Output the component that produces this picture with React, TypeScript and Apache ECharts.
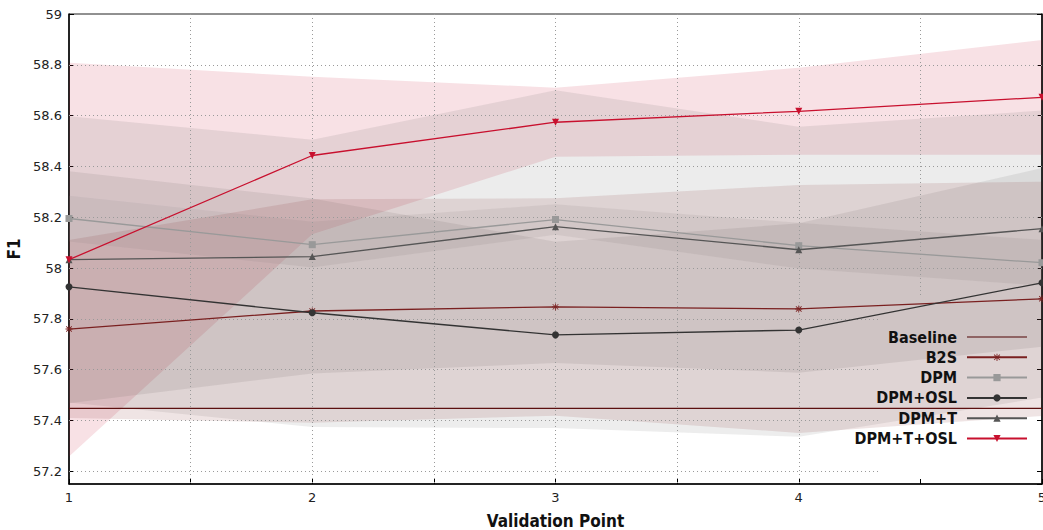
import React, { useEffect, useRef } from "react";
import * as echarts from "echarts";

// ---------- data ----------
const X_POINTS = [1, 2, 3, 4, 5];
const X_TICK_LABELS = ["1", "2", "3", "4", "5"];
const Y_TICK_VALUES = [57.2, 57.4, 57.6, 57.8, 58, 58.2, 58.4, 58.6, 58.8, 59];

const SERIES_NAMES = ["Baseline", "B2S", "DPM", "DPM+OSL", "DPM+T", "DPM+T+OSL"];

const BASELINE = [57.448, 57.448, 57.448, 57.448, 57.448];
const B2S = [57.76, 57.831, 57.847, 57.839, 57.879];
const DPM = [58.195, 58.092, 58.191, 58.088, 58.021];
const DPM_OSL = [57.926, 57.824, 57.737, 57.756, 57.942];
const DPM_T = [58.033, 58.045, 58.163, 58.072, 58.155];
const DPM_T_OSL = [58.033, 58.443, 58.574, 58.617, 58.672];

// standard deviations (half-width of shaded bands)
const B2S_SD = [0.35, 0.44, 0.428, 0.488, 0.461];
const DPM_SD = [0.09, 0.09, 0.06, 0.09, 0.09];
const DPM_OSL_SD = [0.455, 0.45, 0.367, 0.42, 0.452];
const DPM_T_SD = [0.565, 0.46, 0.537, 0.484, 0.465];
const DPM_T_OSL_SD = [0.775, 0.31, 0.136, 0.171, 0.226];

// ---------- styles ----------
const FONT = "'DejaVu Sans', sans-serif";
const BOLD_FONT = "'DejaVu Sans Condensed', 'DejaVu Sans', sans-serif";
const COLORS: Record<string, string> = {
  Baseline: "#5c1010",
  B2S: "#7a2020",
  DPM: "#999999",
  "DPM+OSL": "#333333",
  "DPM+T": "#555555",
  "DPM+T+OSL": "#c8102e",
};
const BAND_FILLS: Record<string, string> = {
  B2S: "rgba(122,32,32,0.12)",
  DPM: "rgba(153,153,153,0.15)",
  "DPM+OSL": "rgba(51,51,51,0.09)",
  "DPM+T": "rgba(85,85,85,0.11)",
  "DPM+T+OSL": "rgba(200,16,46,0.125)",
};
const ASTERISK =
  "path://M4.4,0H5.6V10H4.4Z M0.6,1.7L1.3,0.8L9.4,8.3L8.7,9.2Z M9.4,1.7L8.7,0.8L0.6,8.3L1.3,9.2Z M0,4.4H10V5.6H0Z";
const LINE_ICON = "path://M0,0H60V1.4H0Z";

const BANDS = [
  { name: "DPM+T+OSL", mean: DPM_T_OSL, sd: DPM_T_OSL_SD },
  { name: "DPM+T", mean: DPM_T, sd: DPM_T_SD },
  { name: "DPM", mean: DPM, sd: DPM_SD },
  { name: "DPM+OSL", mean: DPM_OSL, sd: DPM_OSL_SD },
  { name: "B2S", mean: B2S, sd: B2S_SD },
];

const LINES = [
  { name: "Baseline", values: BASELINE, symbol: "none", rotate: 0 },
  { name: "B2S", values: B2S, symbol: ASTERISK, rotate: 0 },
  { name: "DPM", values: DPM, symbol: "rect", rotate: 0 },
  { name: "DPM+OSL", values: DPM_OSL, symbol: "circle", rotate: 0 },
  { name: "DPM+T", values: DPM_T, symbol: "triangle", rotate: 0 },
  { name: "DPM+T+OSL", values: DPM_T_OSL, symbol: "triangle", rotate: 180 },
];

// grid lines that stop at the key (legend) area
const KEY_LEFT_X = 4.334;
const KEY_TOP_Y = 57.887;

function buildOption() {
  const gridLineStyle = { type: [1, 3] as any, color: "#9a9a9a", width: 1 };
  const markData: any[] = [];
  Y_TICK_VALUES.forEach((v) => {
    if (v >= 59) return;
    const xEnd = v < KEY_TOP_Y ? KEY_LEFT_X : 5;
    markData.push([{ coord: [1, v] }, { coord: [xEnd, v] }]);
  });
  [1.5, 2, 2.5, 3, 3.5, 4, 4.5].forEach((x) => {
    const yEnd = x > KEY_LEFT_X ? KEY_TOP_Y : 57.15;
    markData.push([{ coord: [x, 59] }, { coord: [x, yEnd] }]);
  });

  const series: any[] = [
    {
      type: "line",
      name: "__grid",
      data: [],
      silent: true,
      z: 1,
      markLine: {
        silent: true,
        symbol: ["none", "none"],
        label: { show: false },
        lineStyle: gridLineStyle,
        emphasis: { disabled: true },
        data: markData,
      },
    },
    {
      type: "custom",
      name: "__bands",
      silent: true,
      z: 2,
      clip: true,
      data: BANDS.map((_, i) => [i]),
      encode: { x: -1, y: -1 },
      renderItem: (params: any, api: any) => {
        const b = BANDS[api.value(0)];
        const upper = X_POINTS.map((x, k) => api.coord([x, b.mean[k] + b.sd[k]]));
        const lower = X_POINTS.map((x, k) => api.coord([x, b.mean[k] - b.sd[k]])).reverse();
        return {
          type: "polygon",
          shape: { points: upper.concat(lower) },
          style: { fill: BAND_FILLS[b.name], stroke: "none" },
        };
      },
    },
  ];

  LINES.forEach((l, i) => {
    series.push({
      type: "line",
      name: l.name,
      data: X_POINTS.map((x, k) => [x, l.values[k]]),
      symbol: l.symbol,
      symbolSize: 7,
      symbolRotate: l.rotate,
      showSymbol: l.symbol !== "none",
      z: 5 + i,
      lineStyle: { color: COLORS[l.name], width: 1.3 },
      itemStyle: { color: COLORS[l.name] },
      emphasis: { disabled: true },
    });
  });

  return {
    animation: false,
    backgroundColor: "#ffffff",
    grid: {
      left: 69,
      right: 1,
      top: 14,
      bottom: 46,
      show: true,
      borderColor: "#222",
      borderWidth: 1,
      containLabel: false,
      outerBoundsMode: "none",
    },
    legend: {
      data: SERIES_NAMES.map((n) =>
        n === "Baseline" ? { name: n, icon: LINE_ICON, itemStyle: { color: "#7a4444" } } : { name: n }
      ),
      orient: "vertical",
      right: 15,
      top: 329,
      align: "right",
      itemWidth: 60,
      itemHeight: 9,
      itemGap: 4.3,
      padding: 0,
      selectedMode: false,
      textStyle: {
        fontFamily: BOLD_FONT,
        fontWeight: "bold",
        fontSize: 16,
        color: "#111",
        padding: [0, 5, 0, 0],
      },
    },
    xAxis: {
      type: "value",
      min: 1,
      max: 5,
      interval: 0.5,
      name: "Validation Point",
      nameLocation: "middle",
      nameGap: 28,
      nameTextStyle: { fontFamily: BOLD_FONT, fontWeight: "bold", fontSize: 17, color: "#111" },
      axisLine: { show: true, onZero: false, lineStyle: { color: "#000", width: 1.5 } },
      axisTick: { show: true, inside: true, length: 5, lineStyle: { color: "#000" } },
      axisLabel: {
        show: true,
        margin: 7,
        fontFamily: FONT,
        fontSize: 13,
        color: "#222",
        formatter: (v: number) => {
          const i = X_POINTS.indexOf(v);
          return i >= 0 ? X_TICK_LABELS[i] : "";
        },
      },
      splitLine: { show: false },
    },
    yAxis: [
      {
        type: "value",
        min: 57.15,
        max: 59,
        splitNumber: 9,
        name: "F1",
        nameLocation: "middle",
        nameGap: 44,
        nameRotate: 90,
        nameTextStyle: { fontFamily: BOLD_FONT, fontWeight: "bold", fontSize: 17, color: "#111" },
        axisLine: { show: true, onZero: false, lineStyle: { color: "#000", width: 1.5 } },
        axisTick: { show: true, inside: true, length: 5, lineStyle: { color: "#000" } },
        axisLabel: {
          showMinLabel: false,
          margin: 7,
          fontFamily: FONT,
          fontSize: 13,
          color: "#222",
        },
        splitLine: { show: false },
      },
      {
        type: "value",
        position: "right",
        min: 57.15,
        max: 59,
        splitNumber: 9,
        axisLine: { show: true, onZero: false, lineStyle: { color: "#000", width: 1.5 } },
        axisTick: { show: true, inside: true, length: 5, lineStyle: { color: "#000" } },
        axisLabel: { show: false },
        splitLine: { show: false },
      },
    ],
    series,
  };
}

export default function App() {
  const ref = useRef<HTMLDivElement>(null);
  useEffect(() => {
    if (!ref.current) return;
    const chart = echarts.init(ref.current, undefined, { renderer: "svg" });
    chart.setOption(buildOption() as any);
    return () => chart.dispose();
  }, []);
  return (
    <div
      ref={ref}
      style={{ position: "absolute", left: 0, top: 0, width: 1043, height: 530, background: "#fff" }}
    />
  );
}
